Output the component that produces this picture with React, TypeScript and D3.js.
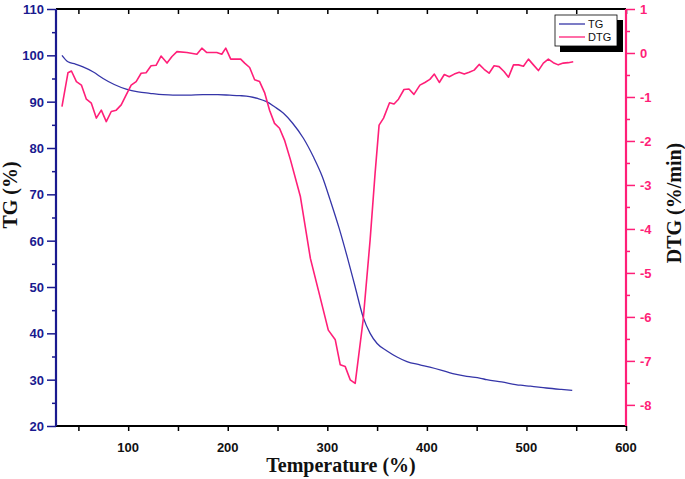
import React, { useEffect, useRef } from "react";
import * as d3 from "d3";

// TG curve (temperature, weight %)
const tgTemp = [33.5, 39.5, 47, 54.6, 65, 74.8, 86, 98, 110, 121.7, 135, 145, 160, 175, 190, 202, 212, 222, 230, 239, 247, 256, 265, 276, 286, 295, 303, 312, 320, 328, 336, 343, 350, 360, 370, 380, 393, 403, 415, 426, 440, 454, 460, 475, 494, 504, 520, 535, 546];
const tgVal = [100, 98.6, 98.1, 97.5, 96.4, 95.0, 93.7, 92.7, 92.1, 91.8, 91.5, 91.4, 91.4, 91.5, 91.5, 91.4, 91.3, 91.1, 90.7, 90.0, 88.9, 87.5, 85.4, 82.1, 78.1, 73.8, 68.7, 62.6, 56.5, 50.0, 43.5, 40.0, 37.8, 36.2, 34.9, 33.9, 33.2, 32.7, 32.0, 31.3, 30.7, 30.3, 30.0, 29.5, 28.8, 28.6, 28.2, 27.9, 27.7];

// DTG curve (temperature, %/min)
const dtgTemp = [33.5, 39.5, 43, 48, 53, 58, 63, 68, 73, 78, 83, 88, 93, 98, 103, 108, 113, 118, 123, 128, 133, 139, 144, 149, 159, 169, 174, 179, 189, 194, 198, 203, 213, 217, 222, 227, 232, 237, 242, 247, 252, 257, 263, 273, 283, 291, 301, 308, 313, 318, 323, 328, 336, 343, 348, 352, 356.5, 362.5, 367, 371.5, 377, 382, 387, 393, 398, 403, 407.5, 412.5, 417.5, 422.5, 427.5, 432.5, 437.5, 442.5, 447.5, 452.5, 457.5, 462.5, 467.5, 472.5, 477.5, 482, 487, 492, 497, 502, 507, 512, 517, 522, 527, 532, 537, 542, 547];
const dtgVal = [-1.22, -0.45, -0.41, -0.65, -0.73, -1.05, -1.14, -1.48, -1.3, -1.56, -1.33, -1.3, -1.18, -0.95, -0.73, -0.65, -0.46, -0.45, -0.29, -0.28, -0.07, -0.23, -0.08, 0.03, 0.01, -0.03, 0.11, 0.01, 0.01, -0.03, 0.11, -0.14, -0.14, -0.23, -0.33, -0.61, -0.65, -0.9, -1.3, -1.6, -1.71, -1.98, -2.43, -3.27, -4.67, -5.39, -6.3, -6.52, -7.09, -7.13, -7.43, -7.51, -6.07, -4.25, -2.73, -1.64, -1.48, -1.13, -1.16, -1.05, -0.83, -0.82, -0.94, -0.73, -0.67, -0.6, -0.48, -0.67, -0.49, -0.54, -0.48, -0.44, -0.48, -0.44, -0.39, -0.26, -0.37, -0.46, -0.29, -0.31, -0.42, -0.55, -0.27, -0.27, -0.3, -0.14, -0.27, -0.4, -0.23, -0.14, -0.22, -0.27, -0.23, -0.22, -0.2];

const xTicks = [100, 200, 300, 400, 500, 600];
const tgTicks = [20, 30, 40, 50, 60, 70, 80, 90, 100, 110];
const dtgTicks = [-8, -7, -6, -5, -4, -3, -2, -1, 0, 1];
const seriesNames = ["TG", "DTG"];

const BLUE_AXIS = "#1a1a8f";
const BLUE_LINE = "#3535a8";
const PINK = "#ff1f78";

export default function App() {
  const ref = useRef<SVGSVGElement>(null);

  useEffect(() => {
    const svg = d3.select(ref.current);
    svg.selectAll("*").remove();

    const L = 56, R = 626, T = 9, B = 426;
    const x = d3.scaleLinear().domain([27.5, 600]).range([L, R]);
    const yTG = d3.scaleLinear().domain([20, 110]).range([B, T]);
    const yDTG = d3.scaleLinear().domain([-8.48, 1]).range([B, T]);

    const sans = "'Liberation Sans', Arial, sans-serif";
    const serif = "'Liberation Serif', 'Times New Roman', serif";

    // curves
    const tgLine = d3.line<number>().x((d, i) => x(tgTemp[i])).y((d) => yTG(d)).curve(d3.curveMonotoneX);
    svg.append("path").datum(tgVal).attr("fill", "none").attr("stroke", BLUE_LINE).attr("stroke-width", 1.3).attr("d", tgLine);

    const dtgLine = d3.line<number>().x((d, i) => x(dtgTemp[i])).y((d) => yDTG(d));
    svg.append("path").datum(dtgVal).attr("fill", "none").attr("stroke", PINK).attr("stroke-width", 1.6).attr("stroke-linejoin", "round").attr("d", dtgLine);

    // bottom axis
    const bottom = svg.append("g").attr("transform", `translate(0,${B})`);
    bottom.call(d3.axisBottom(x).tickValues(d3.range(50, 601, 50)).tickSize(5).tickFormat(() => ""));
    bottom.select(".domain").remove();
    bottom.selectAll("line").attr("stroke", "#000").attr("stroke-width", 1.5);
    svg.append("g").selectAll("text").data(xTicks).join("text")
      .attr("x", (d) => x(d)).attr("y", B + 26).attr("text-anchor", "middle")
      .attr("font-family", sans).attr("font-weight", "bold").attr("font-size", 13).attr("fill", "#111")
      .text((d) => d);

    // top axis ticks (inward)
    const top = svg.append("g").attr("transform", `translate(0,${T})`);
    top.call(d3.axisBottom(x).tickValues(d3.range(50, 601, 50)).tickSize(5).tickFormat(() => ""));
    top.select(".domain").remove();
    top.selectAll("line").attr("stroke", "#000").attr("stroke-width", 1.5);

    // left axis
    const left = svg.append("g").attr("transform", `translate(${L},0)`);
    left.call(d3.axisLeft(yTG).tickValues(tgTicks).tickSize(9).tickFormat(() => ""));
    left.select(".domain").remove();
    left.selectAll("line").attr("stroke", BLUE_AXIS).attr("stroke-width", 1.5);
    const leftMinor = svg.append("g").attr("transform", `translate(${L},0)`);
    leftMinor.call(d3.axisLeft(yTG).tickValues(d3.range(25, 110, 10)).tickSize(4).tickFormat(() => ""));
    leftMinor.select(".domain").remove();
    leftMinor.selectAll("line").attr("stroke", BLUE_AXIS).attr("stroke-width", 1.5);
    svg.append("g").selectAll("text").data(tgTicks).join("text")
      .attr("x", L - 12).attr("y", (d) => yTG(d) + 5).attr("text-anchor", "end")
      .attr("font-family", sans).attr("font-weight", "bold").attr("font-size", 13).attr("fill", BLUE_AXIS)
      .text((d) => d);

    // right axis
    const right = svg.append("g").attr("transform", `translate(${R},0)`);
    right.call(d3.axisRight(yDTG).tickValues(dtgTicks).tickSize(9).tickFormat(() => ""));
    right.select(".domain").remove();
    right.selectAll("line").attr("stroke", PINK).attr("stroke-width", 1.5);
    const rightMinor = svg.append("g").attr("transform", `translate(${R},0)`);
    rightMinor.call(d3.axisRight(yDTG).tickValues(d3.range(-7.5, 1, 1)).tickSize(4).tickFormat(() => ""));
    rightMinor.select(".domain").remove();
    rightMinor.selectAll("line").attr("stroke", PINK).attr("stroke-width", 1.5);
    svg.append("g").selectAll("text").data(dtgTicks).join("text")
      .attr("x", R + 14).attr("y", (d) => yDTG(d) + 5).attr("text-anchor", "start")
      .attr("font-family", sans).attr("font-weight", "bold").attr("font-size", 13).attr("fill", PINK)
      .text((d) => d);

    // frame
    svg.append("line").attr("x1", L).attr("x2", R).attr("y1", T).attr("y2", T).attr("stroke", "#000").attr("stroke-width", 2);
    svg.append("line").attr("x1", L).attr("x2", R).attr("y1", B).attr("y2", B).attr("stroke", "#000").attr("stroke-width", 2);
    svg.append("line").attr("x1", L).attr("x2", L).attr("y1", T).attr("y2", B).attr("stroke", BLUE_AXIS).attr("stroke-width", 2.2);
    svg.append("line").attr("x1", R).attr("x2", R).attr("y1", T).attr("y2", B).attr("stroke", PINK).attr("stroke-width", 2.2);

    // axis titles
    svg.append("text").attr("x", 341).attr("y", 472).attr("text-anchor", "middle")
      .attr("font-family", serif).attr("font-weight", "bold").attr("font-size", 20).attr("fill", "#111")
      .text("Temperature (%)");
    svg.append("text").attr("transform", "translate(17,195) rotate(-90)").attr("text-anchor", "middle")
      .attr("font-family", serif).attr("font-weight", "bold").attr("font-size", 20).attr("fill", "#111")
      .text("TG (%)");
    svg.append("text").attr("transform", "translate(681,203) rotate(-90)").attr("text-anchor", "middle")
      .attr("font-family", serif).attr("font-weight", "bold").attr("font-size", 20).attr("fill", "#111")
      .text("DTG (%/min)");

    // legend
    const lg = svg.append("g");
    lg.append("rect").attr("x", 560).attr("y", 20).attr("width", 63).attr("height", 32).attr("fill", "#000");
    lg.append("rect").attr("x", 555).attr("y", 15).attr("width", 62).attr("height", 31).attr("fill", "#fff").attr("stroke", "#000").attr("stroke-width", 0.8);
    const colors = [BLUE_LINE, PINK];
    seriesNames.forEach((name, i) => {
      const yy = 24 + i * 13;
      lg.append("line").attr("x1", 559).attr("x2", 585).attr("y1", yy).attr("y2", yy).attr("stroke", colors[i]).attr("stroke-width", 1.3);
      lg.append("text").attr("x", 588).attr("y", yy + 4).attr("font-family", sans).attr("font-size", 11).attr("fill", "#111").text(name);
    });
  }, []);

  return <svg ref={ref} width={685} height={479} style={{ position: "absolute", left: 0, top: 0, background: "#fff" }} />;
}
